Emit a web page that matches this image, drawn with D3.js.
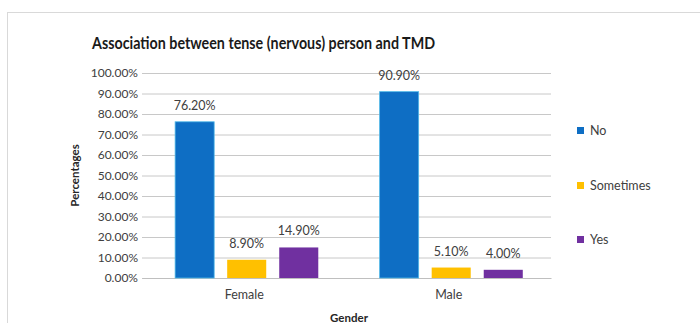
<!DOCTYPE html>
<html>
<head>
<meta charset="utf-8">
<script src="https://cdn.jsdelivr.net/npm/d3@7"></script>
<style>
  html, body { margin: 0; padding: 0; background: #fff; }
  svg { display: block; }
  text { font-family: Lato, "Open Sans", sans-serif; }
</style>
</head>
<body>
<svg id="chart" width="700" height="323"></svg>
<script>
// Gender groups and answer categories
const genders = ["Female", "Male"];
const answers = ["No", "Sometimes", "Yes"];
// Percentages per answer, in the order of genders
const noValues = [76.2, 90.9];
const sometimesValues = [8.9, 5.1];
const yesValues = [14.9, 4.0];
const yTicks = [0, 10, 20, 30, 40, 50, 60, 70, 80, 90, 100];
const colors = ["#0E6EC4", "#FFC000", "#7030A0"];

const seriesByAnswer = { No: noValues, Sometimes: sometimesValues, Yes: yesValues };
const rows = genders.map((g, i) => ({
  gender: g,
  values: answers.map(a => ({ answer: a, value: seriesByAnswer[a][i] }))
}));

const svg = d3.select("#chart");

// outer chart frame
svg.append("rect")
  .attr("x", 7.5).attr("y", 12.5)
  .attr("width", 710).attr("height", 330)
  .attr("fill", "#fff").attr("stroke", "#d9d9d9").attr("stroke-width", 1);

const plot = { left: 142, right: 551, top: 73, bottom: 278 };

const y = d3.scaleLinear().domain([0, 100]).range([plot.bottom, plot.top]);
const x0 = d3.scaleBand().domain(genders).range([plot.left, plot.right]).padding(0);
const x1 = d3.scaleBand().domain(answers)
  .range([x0.bandwidth() * 0.162, x0.bandwidth() * 0.862])
  .paddingInner(0.25).paddingOuter(0);

// gridlines
const yAxis = d3.axisLeft(y).tickValues(yTicks)
  .tickSize(-(plot.right - plot.left))
  .tickPadding(5)
  .tickFormat(d => d.toFixed(2) + "%");
const gy = svg.append("g").attr("transform", `translate(${plot.left},0)`).call(yAxis);
gy.select(".domain").remove();
gy.selectAll(".tick line").attr("stroke", "#c8c8c8").attr("stroke-width", 1);
gy.selectAll(".tick text")
  .attr("fill", "#404040").attr("font-size", 12)
  .attr("x", -4);

// category axis
const xAxis = d3.axisBottom(x0).tickSize(0).tickPadding(12);
const gx = svg.append("g").attr("transform", `translate(0,${plot.bottom})`).call(xAxis);
gx.select(".domain").attr("stroke", "#bfbfbf");
gx.selectAll(".tick text").attr("fill", "#404040").attr("font-size", 12.5);

// bars
const groups = svg.append("g").selectAll("g").data(rows).join("g")
  .attr("transform", d => `translate(${x0(d.gender)},0)`);

groups.selectAll("rect").data(d => d.values).join("rect")
  .attr("x", d => x1(d.answer))
  .attr("width", x1.bandwidth())
  .attr("y", d => y(d.value))
  .attr("height", d => y(0) - y(d.value))
  .attr("fill", (d, i) => colors[i])
  .attr("stroke", (d, i) => i === 0 ? "#4fb8e8" : "none")
  .attr("stroke-width", 0.8);

// value labels
groups.selectAll("text.val").data(d => d.values).join("text")
  .attr("class", "val")
  .attr("x", d => x1(d.answer) + x1.bandwidth() / 2)
  .attr("y", d => y(d.value) - 12)
  .attr("text-anchor", "middle")
  .attr("fill", "#404040").attr("font-size", 12.5)
  .text(d => d.value.toFixed(2) + "%");

// title, fitted to a condensed width
svg.append("text")
  .attr("x", 92).attr("y", 49)
  .attr("textLength", 343).attr("lengthAdjust", "spacingAndGlyphs")
  .attr("font-size", 17.5).attr("font-weight", "bold").attr("fill", "#1a1a1a")
  .text("Association between tense (nervous) person and TMD");

// axis titles
svg.append("text")
  .attr("transform", `translate(79,${(plot.top + plot.bottom) / 2}) rotate(-90)`)
  .attr("text-anchor", "middle")
  .attr("font-size", 11.5).attr("font-weight", "bold").attr("fill", "#262626")
  .text("Percentages");

svg.append("text")
  .attr("x", 349).attr("y", 322)
  .attr("text-anchor", "middle")
  .attr("font-size", 11.5).attr("font-weight", "bold").attr("fill", "#262626")
  .text("Gender");

// legend
const legendY = [131, 186, 240];
const legend = svg.append("g").selectAll("g").data(answers).join("g")
  .attr("transform", (d, i) => `translate(577,${legendY[i]})`);
legend.append("rect")
  .attr("x", 0).attr("y", -4).attr("width", 7).attr("height", 7)
  .attr("fill", (d, i) => colors[i]);
legend.append("text")
  .attr("x", 13).attr("y", 4)
  .attr("font-size", 12.5).attr("fill", "#404040")
  .text(d => d);
</script>
</body>
</html>
